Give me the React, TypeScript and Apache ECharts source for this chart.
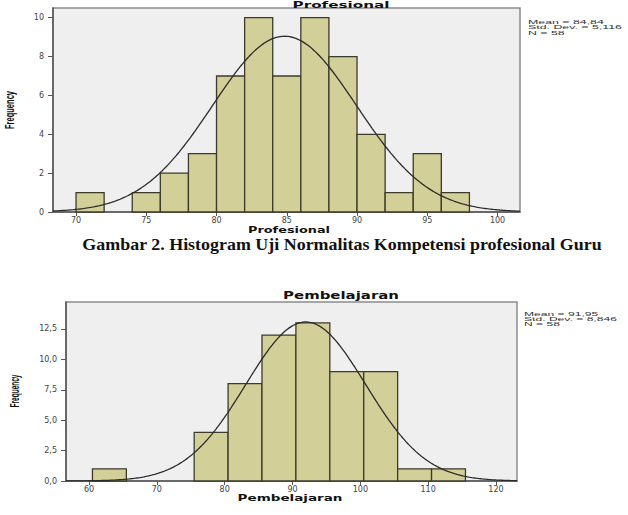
import React, { useEffect, useRef } from "react";
import * as echarts from "echarts";

// ---- Data: Profesional ----
const profBinStart = [70, 72, 74, 76, 78, 80, 82, 84, 86, 88, 90, 92, 94, 96];
const profCounts = [1, 0, 1, 2, 3, 7, 10, 7, 10, 8, 4, 1, 3, 1];
const profBinWidth = 2;
const profTicksX = [70, 75, 80, 85, 90, 95, 100];
const profTicksY = [0, 2, 4, 6, 8, 10];
const profStats = { mean: 84.84, sd: 5.116, n: 58 };
const profLegend = ["Mean = 84,84", "Std. Dev. = 5,116", "N = 58"];

// ---- Data: Pembelajaran ----
const pembBinStart = [60.5, 65.5, 70.5, 75.5, 80.5, 85.5, 90.5, 95.5, 100.5, 105.5, 110.5];
const pembCounts = [1, 0, 0, 4, 8, 12, 13, 9, 9, 1, 1];
const pembBinWidth = 5;
const pembTicksX = [60, 70, 80, 90, 100, 110, 120];
const pembTicksY = [0, 2.5, 5, 7.5, 10, 12.5];
const pembStats = { mean: 91.95, sd: 8.846, n: 58 };
const pembLegend = ["Mean = 91,95", "Std. Dev. = 8,846", "N = 58"];

const caption = "Gambar 2. Histogram Uji Normalitas Kompetensi profesional Guru";

const BAR_FILL = "#D3CF98";
const BAR_STROKE = "#3C3B2C";
const PLOT_BG = "#EFEFEF";

function measure(text: string, font: string): number {
  const ctx = document.createElement("canvas").getContext("2d")!;
  ctx.font = font;
  return ctx.measureText(text).width || 1;
}

function fitText(
  text: string,
  x: number,
  y: number,
  size: number,
  family: string,
  weight: string,
  targetW: number,
  opts: any = {}
) {
  const w = measure(text, `${weight} ${size}px ${family}`);
  return {
    type: "text",
    x,
    y,
    rotation: opts.rotation || 0,
    scaleX: targetW / w,
    silent: true,
    style: {
      text,
      fontSize: size,
      fontFamily: family,
      fontWeight: weight,
      fill: opts.fill || "#111",
      textAlign: opts.align || "center",
      textVerticalAlign: "middle",
    },
  };
}

function normalCurve(min: number, max: number, s: { mean: number; sd: number; n: number }, bw: number) {
  const pts: number[][] = [];
  const step = (max - min) / 300;
  for (let i = 0; i <= 300; i++) {
    const x = min + i * step;
    const z = (x - s.mean) / s.sd;
    pts.push([x, (s.n * bw * Math.exp(-0.5 * z * z)) / (s.sd * Math.sqrt(2 * Math.PI))]);
  }
  return pts;
}

const renderBar = (params: any, api: any) => {
  const x0 = api.value(0);
  const x1 = api.value(1);
  const c = api.value(2);
  if (!c) return { type: "group", children: [] };
  const p0 = api.coord([x0, 0]);
  const p1 = api.coord([x1, c]);
  return {
    type: "rect",
    shape: { x: p0[0], y: p1[1], width: p1[0] - p0[0], height: p0[1] - p1[1] },
    style: { fill: BAR_FILL, stroke: BAR_STROKE, lineWidth: 1.3 },
  };
};

function xAxisCfg(gridIndex: number, min: number, max: number, ticks: number[]) {
  return {
    type: "value",
    gridIndex,
    min,
    max,
    splitLine: { show: false },
    axisLine: { show: true, lineStyle: { color: "#555", width: 1.5 } },
    axisTick: { show: true, length: 4, customValues: ticks, lineStyle: { color: "#555" } },
    axisLabel: {
      customValues: ticks,
      margin: 4,
      fontSize: 8,
      fontFamily: "DejaVu Sans",
      color: "#444",
      formatter: (v: number) => String(v),
    },
  };
}

function yAxisCfg(gridIndex: number, max: number, ticks: number[], fmt: (v: number) => string) {
  return {
    type: "value",
    gridIndex,
    min: 0,
    max,
    splitLine: { show: false },
    axisLine: { show: true, lineStyle: { color: "#555", width: 1.5 } },
    axisTick: { show: true, length: 5, customValues: ticks, lineStyle: { color: "#555" } },
    axisLabel: {
      customValues: ticks,
      margin: 9,
      fontSize: 8,
      fontFamily: "DejaVu Sans",
      color: "#444",
      formatter: fmt,
    },
  };
}

export default function App() {
  const ref = useRef<HTMLDivElement>(null);
  useEffect(() => {
    if (!ref.current) return;
    const chart = echarts.init(ref.current, undefined, { renderer: "svg" });

    const pX = [68.36, 101.6];
    const bX = [56.6, 123.1];

    const sans = '"Liberation Sans"';
    const dv = '"DejaVu Sans"';

    const graphics: any[] = [
      fitText("Profesional", 341, 4.5, 9, dv, "bold", 97),
      fitText("Profesional", 289, 230, 9, dv, "bold", 82),
      fitText("Frequency", 10, 110, 12, sans, "bold", 38, { rotation: Math.PI / 2 }),
      fitText("Pembelajaran", 341, 295, 10, dv, "bold", 116),
      fitText("Pembelajaran", 290, 498, 9, dv, "bold", 105),
      fitText("Frequency", 15, 391, 12, sans, "bold", 33, { rotation: Math.PI / 2 }),
      fitText(caption, 342, 244, 17, '"Liberation Serif"', "bold", 520),
    ];
    const legScaleTop = 94 / measure(profLegend[1], `normal 6px ${sans}`);
    profLegend.forEach((t, i) => {
      graphics.push({
        type: "text",
        x: 528,
        y: 22 + i * 5.2,
        scaleX: legScaleTop,
        silent: true,
        style: { text: t, fontSize: 6, fontFamily: sans, fill: "#333", textAlign: "left", textVerticalAlign: "middle" },
      });
    });
    const legScaleBot = 93 / measure(pembLegend[1], `normal 6px ${sans}`);
    pembLegend.forEach((t, i) => {
      graphics.push({
        type: "text",
        x: 524,
        y: 313.5 + i * 5.0,
        scaleX: legScaleBot,
        silent: true,
        style: { text: t, fontSize: 6, fontFamily: sans, fill: "#333", textAlign: "left", textVerticalAlign: "middle" },
      });
    });

    chart.setOption({
      animation: false,
      backgroundColor: "#ffffff",
      grid: [
        { left: 53, top: 8, right: 108, bottom: 303, show: true, backgroundColor: PLOT_BG, borderColor: "#8c8c8c", borderWidth: 1.5 },
        { left: 66, top: 302, right: 111, bottom: 34, show: true, backgroundColor: PLOT_BG, borderColor: "#8c8c8c", borderWidth: 1.5 },
      ],
      xAxis: [xAxisCfg(0, pX[0], pX[1], profTicksX), xAxisCfg(1, bX[0], bX[1], pembTicksX)],
      yAxis: [
        yAxisCfg(0, 10.5, profTicksY, (v: number) => String(v)),
        yAxisCfg(1, 14.72, pembTicksY, (v: number) => v.toFixed(1).replace(".", ",")),
      ],
      graphic: graphics,
      series: [
        {
          type: "custom",
          xAxisIndex: 0,
          yAxisIndex: 0,
          renderItem: renderBar,
          encode: { x: [0, 1], y: 2 },
          data: profBinStart.map((s, i) => [s, s + profBinWidth, profCounts[i]]),
          z: 2,
        },
        {
          type: "line",
          xAxisIndex: 0,
          yAxisIndex: 0,
          showSymbol: false,
          symbol: "none",
          data: normalCurve(pX[0], pX[1], profStats, profBinWidth),
          lineStyle: { color: "#2b2b2b", width: 1.3 },
          z: 3,
        },
        {
          type: "custom",
          xAxisIndex: 1,
          yAxisIndex: 1,
          renderItem: renderBar,
          encode: { x: [0, 1], y: 2 },
          data: pembBinStart.map((s, i) => [s, s + pembBinWidth, pembCounts[i]]),
          z: 2,
        },
        {
          type: "line",
          xAxisIndex: 1,
          yAxisIndex: 1,
          showSymbol: false,
          symbol: "none",
          data: normalCurve(bX[0], bX[1], pembStats, pembBinWidth),
          lineStyle: { color: "#2b2b2b", width: 1.3 },
          z: 3,
        },
      ],
    });
    return () => chart.dispose();
  }, []);
  return (
    <div
      ref={ref}
      style={{ position: "absolute", left: 0, top: 0, width: 628, height: 515 }}
    />
  );
}
